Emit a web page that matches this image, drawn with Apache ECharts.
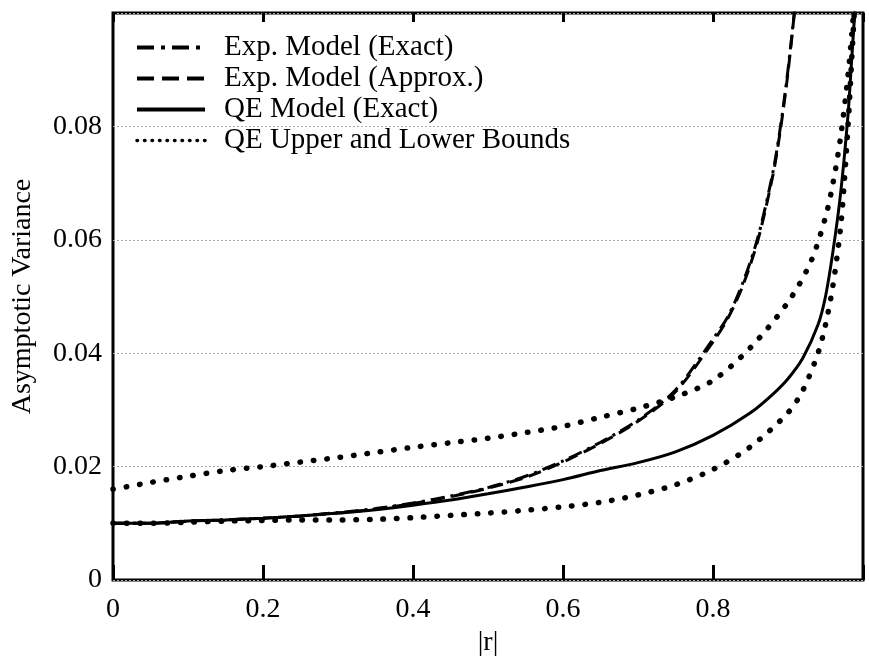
<!DOCTYPE html>
<html>
<head>
<meta charset="utf-8">
<script src="https://cdn.jsdelivr.net/npm/echarts@6/dist/echarts.min.js"></script>
<style>
  html, body { margin: 0; padding: 0; background: #fff; }
  #chart { width: 869px; height: 663px; }
</style>
</head>
<body>
<div id="chart"></div>
<script>
// |r| vs asymptotic variance
const expExactR = [0, 0.05, 0.1, 0.15, 0.2, 0.25, 0.3, 0.35, 0.4, 0.45, 0.5, 0.55, 0.6, 0.65, 0.7, 0.75, 0.8, 0.82, 0.84, 0.86, 0.88, 0.89, 0.9, 0.91]
const expExactV = [0.0100, 0.0100, 0.0104, 0.0106, 0.0109, 0.0113, 0.0119, 0.0126, 0.0136, 0.0148, 0.0163, 0.0183, 0.0210, 0.0243, 0.0282, 0.0335, 0.0425, 0.0465, 0.0525, 0.0605, 0.0720, 0.0800, 0.0900, 0.1020]

const expApproxR = [0, 0.05, 0.1, 0.15, 0.2, 0.25, 0.3, 0.35, 0.4, 0.45, 0.5, 0.55, 0.6, 0.65, 0.7, 0.75, 0.8, 0.82, 0.84, 0.86, 0.88, 0.89, 0.9, 0.91]
const expApproxV = [0.0100, 0.0100, 0.0104, 0.0106, 0.0109, 0.0113, 0.0118, 0.0125, 0.0135, 0.0147, 0.0162, 0.0181, 0.0208, 0.0241, 0.0280, 0.0332, 0.0420, 0.0462, 0.0520, 0.0600, 0.0715, 0.0795, 0.0895, 0.1020]

const qeExactR = [0, 0.05, 0.1, 0.15, 0.2, 0.25, 0.3, 0.35, 0.4, 0.45, 0.5, 0.55, 0.6, 0.65, 0.7, 0.75, 0.8, 0.85, 0.88, 0.9, 0.92, 0.94, 0.95, 0.96, 0.97, 0.98, 0.985, 0.99]
const qeExactV = [0.0100, 0.0100, 0.0104, 0.0106, 0.0109, 0.0113, 0.0118, 0.0124, 0.0132, 0.0141, 0.0152, 0.0164, 0.0177, 0.0193, 0.0207, 0.0226, 0.0255, 0.0295, 0.0328, 0.0355, 0.0392, 0.0450, 0.0500, 0.0580, 0.0680, 0.0820, 0.0920, 0.1020]

const upperR = [0, 0.05, 0.1, 0.15, 0.2, 0.25, 0.3, 0.35, 0.4, 0.45, 0.5, 0.55, 0.6, 0.65, 0.7, 0.75, 0.8, 0.85, 0.9, 0.93, 0.95, 0.96, 0.97, 0.98, 0.988]
const upperV = [0.0160, 0.0172, 0.0183, 0.0193, 0.0200, 0.0208, 0.0216, 0.0225, 0.0234, 0.0242, 0.0250, 0.0260, 0.0271, 0.0287, 0.0303, 0.0323, 0.0352, 0.0410, 0.0490, 0.0560, 0.0640, 0.0700, 0.0780, 0.0890, 0.1010]

const lowerR = [0, 0.05, 0.1, 0.15, 0.2, 0.25, 0.3, 0.35, 0.4, 0.45, 0.5, 0.55, 0.6, 0.65, 0.7, 0.75, 0.8, 0.85, 0.9, 0.92, 0.94, 0.95, 0.96, 0.97, 0.975, 0.98, 0.985, 0.99]
const lowerV = [0.0100, 0.0100, 0.0102, 0.0104, 0.0105, 0.0106, 0.0106, 0.0107, 0.0110, 0.0114, 0.0118, 0.0123, 0.0129, 0.0137, 0.0150, 0.0168, 0.0195, 0.0235, 0.0295, 0.0335, 0.0400, 0.0450, 0.0520, 0.0620, 0.0700, 0.0800, 0.0920, 0.1040]

const xTicks = [0, 0.2, 0.4, 0.6, 0.8]
const yTicks = [0, 0.02, 0.04, 0.06, 0.08]

const names = ['Exp. Model (Exact)', 'Exp. Model (Approx.)', 'QE Model (Exact)', 'QE Upper and Lower Bounds']

const pairs = (xs, ys) => xs.map((x, i) => [x, ys[i]])

const font = 'Liberation Serif'
const chart = echarts.init(document.getElementById('chart'))

const lineSeries = (name, xs, ys, style) => ({
  name,
  type: 'line',
  data: pairs(xs, ys),
  showSymbol: false,
  symbol: 'none',
  smooth: 0.3,
  clip: true,
  lineStyle: Object.assign({ color: '#000' }, style),
  itemStyle: { color: '#000' },
  animation: false,
})

const dotStyle = { width: 5.5, type: [0.5, 13], cap: 'round' }

// legend samples are drawn a bit heavier than the curves, like the original
const legendStyles = [
  { width: 4, type: [17, 7, 4, 7] },
  { width: 4, type: [17, 8] },
  { width: 4, type: 'solid' },
  { width: 3.5, type: [0.5, 7], cap: 'round' },
]

chart.setOption({
  animation: false,
  grid: {
    left: 113, right: 6, top: 13, bottom: 83,
    show: true, borderColor: '#000', borderWidth: 3, backgroundColor: 'transparent',
  },
  legend: {
    orient: 'vertical',
    left: 130, top: 27,
    itemWidth: 68, itemHeight: 14, itemGap: 0,
    itemStyle: { opacity: 0 },
    textStyle: { fontFamily: font, fontSize: 29, lineHeight: 31, color: '#000', padding: [0, 0, 0, 14] },
    data: names.map((n, i) => ({ name: n, lineStyle: Object.assign({ color: '#000' }, legendStyles[i]) })),
  },
  xAxis: [
    {
      type: 'value', min: 0, max: 1, interval: 0.2,
      name: '|r|', nameLocation: 'middle', nameGap: 44,
      nameTextStyle: { fontFamily: font, fontSize: 28, color: '#000' },
      axisLine: { show: false },
      axisTick: { inside: true, length: 15, lineStyle: { color: '#000', width: 3 } },
      axisLabel: {
        fontFamily: font, fontSize: 28, color: '#000', margin: 16,
        formatter: v => xTicks.some(t => Math.abs(t - v) < 1e-9) ? String(+v.toFixed(1)) : '',
      },
      splitLine: { show: false },
    },
    {
      type: 'value', min: 0, max: 1, interval: 0.2, position: 'top',
      axisLine: { show: false },
      axisTick: { inside: true, length: 9, lineStyle: { color: '#000', width: 3 } },
      axisLabel: { show: false },
      splitLine: { show: false },
    },
  ],
  yAxis: {
    type: 'value', min: 0, max: 0.1, interval: 0.02,
    name: 'Asymptotic Variance', nameLocation: 'middle', nameGap: 76,
    nameTextStyle: { fontFamily: font, fontSize: 28, color: '#000' },
    axisLine: { show: false },
    axisTick: { show: false },
    axisLabel: {
      fontFamily: font, fontSize: 28, color: '#000', margin: 11,
      formatter: v => yTicks.some(t => Math.abs(t - v) < 1e-9) ? String(+v.toFixed(2)) : '',
    },
    splitLine: { show: true, lineStyle: { color: '#aaa', width: 1, type: [2, 2] } },
  },
  series: [
    lineSeries(names[0], expExactR, expExactV, { width: 3, type: [14, 6, 3, 6] }),
    lineSeries(names[1], expApproxR, expApproxV, { width: 3, type: [13, 7] }),
    lineSeries(names[2], qeExactR, qeExactV, { width: 3, type: 'solid' }),
    lineSeries(names[3], upperR, upperV, dotStyle),
    lineSeries(names[3], lowerR, lowerV, dotStyle),
  ],
})
</script>
</body>
</html>
